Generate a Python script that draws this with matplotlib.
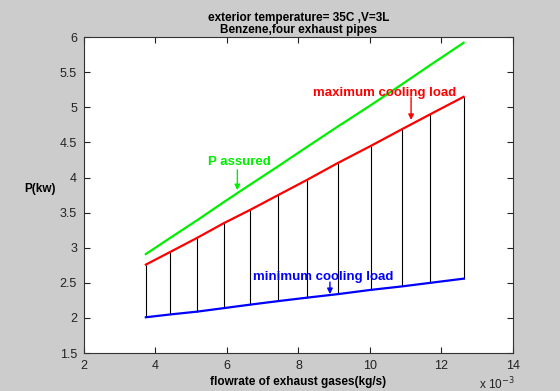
import numpy as np
import matplotlib
matplotlib.use("Agg")
import matplotlib.pyplot as plt

plt.rcParams['font.family'] = ['Liberation Sans', 'DejaVu Sans']

# flowrate of exhaust gases (kg/s)
flowrate = np.array([3.73, 4.41, 5.16, 5.91, 6.65, 7.43, 8.25, 9.11, 10.02, 10.90, 11.68, 12.62]) * 1e-3
p_max = [2.76, 2.94, 3.14, 3.35, 3.54, 3.75, 3.97, 4.21, 4.45, 4.69, 4.90, 5.15]
p_min = [2.01, 2.05, 2.09, 2.14, 2.19, 2.24, 2.29, 2.34, 2.40, 2.45, 2.50, 2.56]
p_assured = [2.91, 3.14, 3.39, 3.65, 3.90, 4.16, 4.44, 4.73, 5.03, 5.33, 5.60, 5.92]

bg = '#cccccc'
fig = plt.figure(figsize=(5.6, 3.91), dpi=100, facecolor=bg)
ax = fig.add_axes([0.15, 0.097, 0.766, 0.808])

x = flowrate * 1e3
ax.vlines(x, p_min, p_max, colors='black', lw=0.8)
ax.plot(x, p_assured, color='#00ee00', lw=1.6)
ax.plot(x, p_max, color='#ff0000', lw=1.6)
ax.plot(x, p_min, color='#0000ff', lw=1.6)

# labels with arrows (text position, arrow start, arrow tip)
labels = [('P assured', '#00ee00', (6.34, 4.22), (6.29, 4.11), (6.29, 3.82)),
          ('maximum cooling load', '#ff0000', (10.4, 5.21), (11.15, 5.15), (11.15, 4.82)),
          ('minimum cooling load', '#0000ff', (8.68, 2.58), (8.88, 2.51), (8.88, 2.34))]
for txt, col, tpos, start, tip in labels:
    ax.text(tpos[0], tpos[1], txt, color=col, fontsize=9.5, fontweight='bold',
            ha='center', va='center')
    ax.annotate('', xy=tip, xytext=start,
                arrowprops=dict(arrowstyle='-|>', color=col, lw=1, mutation_scale=8,
                                shrinkA=0, shrinkB=0))

ax.set_xlim(2, 14)
ax.set_ylim(1.5, 6)
ax.set_xticks([2, 4, 6, 8, 10, 12, 14])
ax.set_yticks(np.arange(1.5, 6.01, 0.5))
ax.set_yticklabels(['1.5', '2', '2.5', '3', '3.5', '4', '4.5', '5', '5.5', '6'])
ax.tick_params(direction='in', top=True, right=True, length=4, labelsize=9,
               colors='#222222', pad=5)
for s in ax.spines.values():
    s.set_color('#333333')

ax.set_title('exterior temperature= 35C ,V=3L\nBenzene,four exhaust pipes',
             fontsize=8.5, fontweight='bold', linespacing=1.05, pad=3)
ax.set_xlabel('flowrate of exhaust gases(kg/s)', fontsize=8.5, fontweight='bold', labelpad=3)
ax.set_ylabel('P(kw)', fontsize=8.5, fontweight='bold', rotation=0, labelpad=14)
fig.text(0.855, 0.005, r'x 10$^{-3}$', fontsize=8.5, color='#222222')

fig.savefig('out.png', dpi=100, facecolor=bg)
